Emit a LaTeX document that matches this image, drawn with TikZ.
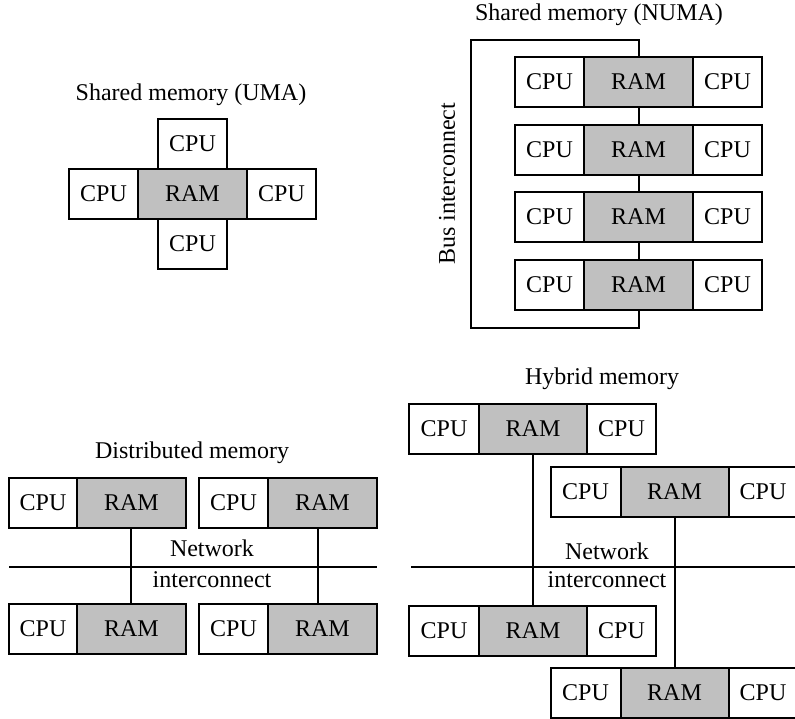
\documentclass[tikz,border=0pt]{standalone}
\usepackage{fontspec}
\setmainfont{Liberation Serif}
\definecolor{ramgray}{RGB}{192,192,192}
\begin{document}
\begin{tikzpicture}[x=1pt,y=-1pt,
  box/.style={draw, line width=2pt, minimum height=50pt, inner sep=0pt, outer sep=0pt, font=\fontsize{24}{28}\selectfont},
  cpu/.style={box, fill=white, minimum width=69pt},
  ram/.style={box, fill=ramgray, minimum width=109pt},
  wire/.style={line width=2pt},
  lbl/.style={font=\fontsize{24}{28}\selectfont, inner sep=0pt}]
\useasboundingbox (0,0) rectangle (795,718);

% ---------- UMA ----------
\node[lbl] (tU) at (191,95) {Shared memory (UMA)};
\node[ram] (ramU) at (192.5,194) {RAM};
\node[cpu, anchor=south] (cpuUt) at (ramU.north) {CPU};
\node[cpu, anchor=east] (cpuUl) at (ramU.west) {CPU};
\node[cpu, anchor=west] (cpuUr) at (ramU.east) {CPU};
\node[cpu, anchor=north] (cpuUb) at (ramU.south) {CPU};

% ---------- NUMA ----------
\node[lbl] (tN) at (599,15) {Shared memory (NUMA)};
\foreach \i/\yy in {1/82,2/149.5,3/217,4/284.5}{
  \node[ram] (ramN\i) at (638.5,\yy) {RAM};
  \node[cpu, anchor=east] (cpuNl\i) at (ramN\i.west) {CPU};
  \node[cpu, anchor=west] (cpuNr\i) at (ramN\i.east) {CPU};
}
\coordinate (bt) at (639,40);
\coordinate (bb) at (639,328);
\coordinate (bl) at (471,40);
\draw[wire] (ramN1.north) -- (ramN1.north |- bt) -- (bl) -- (bl |- bb) -- (ramN4.south |- bb) -- (ramN4.south);
\draw[wire] (ramN1.south) -- (ramN2.north);
\draw[wire] (ramN2.south) -- (ramN3.north);
\draw[wire] (ramN3.south) -- (ramN4.north);
\node[lbl, rotate=90] (bus) at (447,184) {Bus interconnect};

% ---------- Distributed ----------
\node[lbl] (tD) at (192,453) {Distributed memory};
\node[ram] (ramD1) at (131.5,503) {RAM};
\node[cpu, anchor=east, minimum width=68pt] (cpuD1) at (ramD1.west) {CPU};
\node[ram] (ramD2) at (322.5,503) {RAM};
\node[cpu, anchor=east] (cpuD2) at (ramD2.west) {CPU};
\node[ram] (ramD3) at (131.5,629) {RAM};
\node[cpu, anchor=east, minimum width=68pt] (cpuD3) at (ramD3.west) {CPU};
\node[ram] (ramD4) at (322.5,629) {RAM};
\node[cpu, anchor=east] (cpuD4) at (ramD4.west) {CPU};
\coordinate (vx1) at (131,0);
\coordinate (vx2) at (318,0);
\draw[wire] (ramD1.south -| vx1) -- (ramD3.north -| vx1);
\draw[wire] (ramD2.south -| vx2) -- (ramD4.north -| vx2);
\coordinate (nl1) at (9,567);
\coordinate (nr1) at (377,567);
\draw[wire] (nl1) -- (nr1);
\node[lbl] (netD) at (212,548) {Network};
\node[lbl] (intD) at (212,580) {interconnect};

% ---------- Hybrid ----------
\node[lbl] (tH) at (602,379) {Hybrid memory};
\foreach \i/\xx/\yy in {1/533/428.5,2/674.5/492,3/533/631,4/674.5/693}{
  \node[ram, minimum width=108pt] (ramH\i) at (\xx,\yy) {RAM};
  \node[cpu, anchor=east, minimum width=70pt] (cpuHl\i) at (ramH\i.west) {CPU};
  \node[cpu, anchor=west] (cpuHr\i) at (ramH\i.east) {CPU};
}
\draw[wire] (ramH1.south) -- (ramH3.north);
\draw[wire] (ramH2.south) -- (ramH4.north);
\coordinate (nl2) at (411,567);
\coordinate (nr2) at (800,567);
\draw[wire] (nl2) -- (nr2);
\node[lbl] (netH) at (607,551) {Network};
\node[lbl] (intH) at (607,580) {interconnect};
\end{tikzpicture}
\end{document}
